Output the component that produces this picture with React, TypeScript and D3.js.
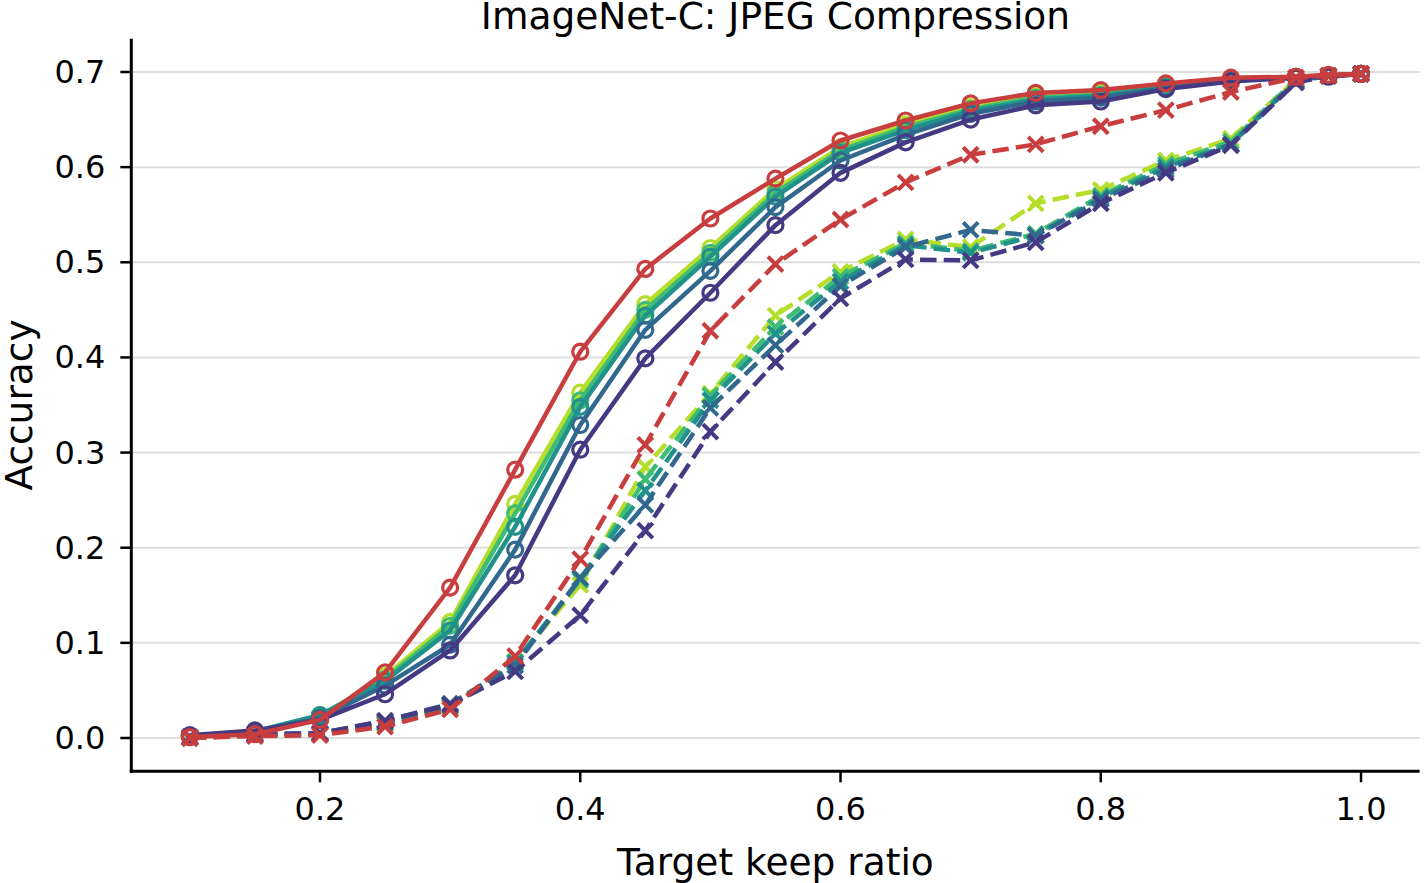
import React from "react";
import * as d3 from "d3";

// Target keep ratios evaluated
const keepRatio = [0.1, 0.15, 0.2, 0.25, 0.3, 0.35, 0.4, 0.45, 0.5, 0.55, 0.6, 0.65, 0.7, 0.75, 0.8, 0.85, 0.9, 0.95, 0.975, 1.0];

// Solid-line (circle marker) accuracies
const solidLime = [0.002, 0.007, 0.022, 0.065, 0.122, 0.246, 0.363, 0.456, 0.515, 0.577, 0.621, 0.645, 0.663, 0.675, 0.678, 0.686, 0.693, 0.695, 0.696, 0.698];
const solidGreen = [0.002, 0.007, 0.024, 0.062, 0.118, 0.236, 0.355, 0.450, 0.510, 0.573, 0.618, 0.642, 0.661, 0.673, 0.676, 0.685, 0.692, 0.695, 0.696, 0.698];
const solidTeal = [0.002, 0.007, 0.024, 0.060, 0.113, 0.222, 0.348, 0.444, 0.506, 0.569, 0.615, 0.639, 0.659, 0.671, 0.675, 0.684, 0.692, 0.695, 0.696, 0.698];
const solidBlue = [0.002, 0.007, 0.021, 0.055, 0.098, 0.198, 0.329, 0.429, 0.491, 0.558, 0.607, 0.634, 0.656, 0.669, 0.673, 0.683, 0.691, 0.694, 0.696, 0.698];
const solidPurple = [0.003, 0.008, 0.019, 0.046, 0.092, 0.171, 0.303, 0.399, 0.468, 0.539, 0.594, 0.626, 0.650, 0.665, 0.669, 0.682, 0.690, 0.694, 0.695, 0.698];
const solidRed = [0.001, 0.004, 0.019, 0.069, 0.158, 0.282, 0.406, 0.493, 0.546, 0.588, 0.628, 0.649, 0.667, 0.678, 0.681, 0.688, 0.694, 0.695, 0.697, 0.698];

// Dashed-line (x marker) accuracies
const dashLime = [0.000, 0.003, 0.004, 0.014, 0.032, 0.080, 0.161, 0.285, 0.362, 0.444, 0.490, 0.524, 0.516, 0.562, 0.576, 0.607, 0.630, 0.692, 0.696, 0.698];
const dashGreen = [0.000, 0.003, 0.004, 0.015, 0.033, 0.080, 0.166, 0.272, 0.360, 0.432, 0.485, 0.520, 0.512, 0.530, 0.570, 0.603, 0.627, 0.692, 0.696, 0.698];
const dashTeal = [0.000, 0.003, 0.004, 0.016, 0.034, 0.079, 0.168, 0.260, 0.355, 0.425, 0.480, 0.518, 0.510, 0.528, 0.568, 0.600, 0.624, 0.691, 0.696, 0.698];
const dashBlue = [0.001, 0.004, 0.005, 0.018, 0.036, 0.076, 0.168, 0.245, 0.347, 0.413, 0.475, 0.516, 0.534, 0.528, 0.566, 0.597, 0.624, 0.690, 0.696, 0.698];
const dashPurple = [0.001, 0.004, 0.005, 0.018, 0.035, 0.070, 0.129, 0.218, 0.322, 0.395, 0.462, 0.503, 0.502, 0.521, 0.562, 0.594, 0.623, 0.689, 0.696, 0.698];
const dashRed = [0.000, 0.002, 0.003, 0.012, 0.030, 0.086, 0.188, 0.308, 0.428, 0.498, 0.545, 0.584, 0.613, 0.624, 0.643, 0.660, 0.679, 0.694, 0.696, 0.698];

const xTicks = [0.2, 0.4, 0.6, 0.8, 1.0];
const yTicks = [0.0, 0.1, 0.2, 0.3, 0.4, 0.5, 0.6, 0.7];

const COLORS = {
  lime: "#b5de2b",
  green: "#3fbc73",
  teal: "#21918c",
  blue: "#31688e",
  purple: "#443983",
  red: "#c83e3e",
};

type Series = { values: number[]; color: string; dashed: boolean };

// Drawing order: lime first, purple last, red on top
const series: Series[] = [
  { values: solidLime, color: COLORS.lime, dashed: false },
  { values: dashLime, color: COLORS.lime, dashed: true },
  { values: solidGreen, color: COLORS.green, dashed: false },
  { values: dashGreen, color: COLORS.green, dashed: true },
  { values: solidTeal, color: COLORS.teal, dashed: false },
  { values: dashTeal, color: COLORS.teal, dashed: true },
  { values: solidBlue, color: COLORS.blue, dashed: false },
  { values: dashBlue, color: COLORS.blue, dashed: true },
  { values: solidPurple, color: COLORS.purple, dashed: false },
  { values: dashPurple, color: COLORS.purple, dashed: true },
  { values: solidRed, color: COLORS.red, dashed: false },
  { values: dashRed, color: COLORS.red, dashed: true },
];

const W = 1424;
const H = 883;
const FONT = "'DejaVu Sans', sans-serif";

export default function App() {
  const x = d3.scaleLinear().domain([0.055, 1.045]).range([131.3, 1419.6]);
  const y = d3.scaleLinear().domain([-0.035, 0.735]).range([771.3, 38.7]);
  const [x0, x1] = x.range();
  const [y0, y1] = y.range();

  const line = d3
    .line<[number, number]>()
    .x((d) => x(d[0]))
    .y((d) => y(d[1]));

  const fmt = d3.format(".1f");
  const tickLen = 11;
  const ms = 7.5; // marker half-size

  return (
    <svg
      width={W}
      height={H}
      viewBox={`0 0 ${W} ${H}`}
      style={{ position: "absolute", left: 0, top: 0, background: "#fff" }}
      fontFamily={FONT}
    >
      <rect width={W} height={H} fill="#fff" />

      {/* horizontal grid */}
      {yTicks.map((t) => (
        <line key={`g${t}`} x1={x0} x2={x1} y1={y(t)} y2={y(t)} stroke="#dedede" strokeWidth={2} />
      ))}

      {/* data */}
      {series.map((s, i) => {
        const pts = keepRatio.map((k, j) => [k, s.values[j]] as [number, number]);
        return (
          <g key={i}>
            <path
              d={line(pts) || ""}
              fill="none"
              stroke={s.color}
              strokeWidth={4.5}
              strokeDasharray={s.dashed ? "16.5 7.2" : undefined}
              strokeLinejoin="round"
            />
            {pts.map(([px, py], j) =>
              s.dashed ? (
                <path
                  key={j}
                  d={`M${x(px) - ms},${y(py) - ms}L${x(px) + ms},${y(py) + ms}M${x(px) - ms},${y(py) + ms}L${x(px) + ms},${y(py) - ms}`}
                  stroke={s.color}
                  strokeWidth={4}
                  fill="none"
                />
              ) : (
                <circle key={j} cx={x(px)} cy={y(py)} r={ms} fill="none" stroke={s.color} strokeWidth={3.2} />
              )
            )}
          </g>
        );
      })}

      {/* spines */}
      <line x1={x0} x2={x0} y1={y0 + 1.5} y2={y1} stroke="#000" strokeWidth={3} />
      <line x1={x0 - 1.5} x2={x1} y1={y0} y2={y0} stroke="#000" strokeWidth={3} />

      {/* y ticks */}
      {yTicks.map((t) => (
        <g key={`y${t}`}>
          <line x1={x0 - tickLen} x2={x0} y1={y(t)} y2={y(t)} stroke="#000" strokeWidth={2.5} />
          <text x={x0 - 26} y={y(t)} textAnchor="end" dominantBaseline="central" fontSize={32}>
            {fmt(t)}
          </text>
        </g>
      ))}

      {/* x ticks */}
      {xTicks.map((t) => (
        <g key={`x${t}`}>
          <line x1={x(t)} x2={x(t)} y1={y0} y2={y0 + tickLen} stroke="#000" strokeWidth={2.5} />
          <text x={x(t)} y={y0 + 38} textAnchor="middle" dominantBaseline="central" fontSize={32}>
            {fmt(t)}
          </text>
        </g>
      ))}

      {/* labels */}
      <text x={(x0 + x1) / 2} y={875} textAnchor="middle" fontSize={37.5}>
        Target keep ratio
      </text>
      <text
        transform={`translate(32, ${(y0 + y1) / 2}) rotate(-90)`}
        textAnchor="middle"
        fontSize={37.5}
      >
        Accuracy
      </text>
      <text x={(x0 + x1) / 2} y={29} textAnchor="middle" fontSize={37.5}>
        ImageNet-C: JPEG Compression
      </text>
    </svg>
  );
}
